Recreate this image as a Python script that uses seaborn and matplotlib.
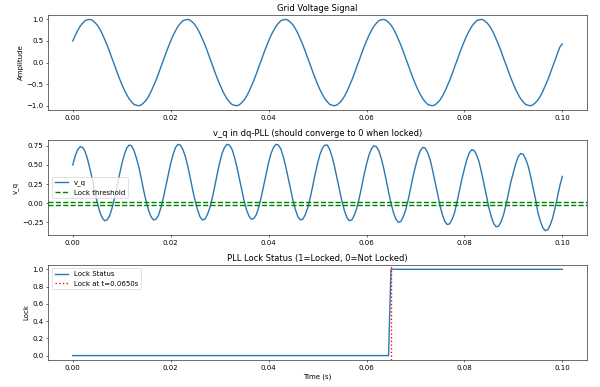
import numpy as np
import matplotlib
matplotlib.use("Agg")
import matplotlib.pyplot as plt
import seaborn as sns

# samples every 0.5 ms, 0 .. 0.1 s
time = np.arange(201) * 0.0005

grid_voltage = [
    0.50, 0.63, 0.74, 0.84, 0.91, 0.97, 0.99, 1.00, 0.98, 0.93, 0.87, 0.78, 0.67, 0.54, 0.41, 0.26, 0.10, -0.05, -0.21, -0.36,
    -0.50, -0.63, -0.74, -0.84, -0.91, -0.97, -0.99, -1.00, -0.98, -0.93, -0.87, -0.78, -0.67, -0.54, -0.41, -0.26, -0.10, 0.05, 0.21, 0.36,
    0.50, 0.63, 0.74, 0.84, 0.91, 0.97, 0.99, 1.00, 0.98, 0.93, 0.87, 0.78, 0.67, 0.54, 0.41, 0.26, 0.10, -0.05, -0.21, -0.36,
    -0.50, -0.63, -0.74, -0.84, -0.91, -0.97, -0.99, -1.00, -0.98, -0.93, -0.87, -0.78, -0.67, -0.54, -0.41, -0.26, -0.10, 0.05, 0.21, 0.36,
    0.50, 0.63, 0.74, 0.84, 0.91, 0.97, 0.99, 1.00, 0.98, 0.93, 0.87, 0.78, 0.67, 0.54, 0.41, 0.26, 0.10, -0.05, -0.21, -0.36,
    -0.50, -0.63, -0.74, -0.84, -0.91, -0.97, -0.99, -1.00, -0.98, -0.93, -0.87, -0.78, -0.67, -0.54, -0.41, -0.26, -0.10, 0.05, 0.21, 0.36,
    0.50, 0.63, 0.74, 0.84, 0.91, 0.97, 0.99, 1.00, 0.98, 0.93, 0.87, 0.78, 0.67, 0.54, 0.41, 0.26, 0.10, -0.05, -0.21, -0.36,
    -0.50, -0.63, -0.74, -0.84, -0.91, -0.97, -0.99, -1.00, -0.98, -0.93, -0.87, -0.78, -0.67, -0.54, -0.41, -0.26, -0.10, 0.05, 0.21, 0.36,
    0.50, 0.63, 0.74, 0.84, 0.91, 0.97, 0.99, 1.00, 0.98, 0.93, 0.87, 0.78, 0.67, 0.54, 0.41, 0.26, 0.10, -0.05, -0.21, -0.36,
    -0.50, -0.63, -0.74, -0.84, -0.91, -0.97, -0.99, -1.00, -0.98, -0.93, -0.87, -0.78, -0.67, -0.54, -0.41, -0.26, -0.10, 0.05, 0.21, 0.36,
    0.43,
]

v_q = [
    0.50, 0.62, 0.70, 0.74, 0.73, 0.68, 0.58, 0.45, 0.31, 0.15, 0.01, -0.11, -0.19, -0.23, -0.22, -0.17, -0.07, 0.06, 0.21, 0.36,
    0.51, 0.63, 0.72, 0.76, 0.75, 0.69, 0.59, 0.47, 0.32, 0.16, 0.02, -0.10, -0.18, -0.22, -0.21, -0.16, -0.06, 0.07, 0.22, 0.37,
    0.52, 0.64, 0.73, 0.77, 0.76, 0.70, 0.61, 0.48, 0.33, 0.17, 0.03, -0.09, -0.18, -0.22, -0.21, -0.15, -0.06, 0.07, 0.22, 0.38,
    0.53, 0.65, 0.73, 0.77, 0.76, 0.71, 0.61, 0.48, 0.33, 0.18, 0.03, -0.09, -0.17, -0.21, -0.20, -0.15, -0.05, 0.08, 0.23, 0.38,
    0.53, 0.65, 0.73, 0.77, 0.76, 0.71, 0.61, 0.48, 0.33, 0.18, 0.03, -0.09, -0.18, -0.22, -0.21, -0.15, -0.06, 0.07, 0.22, 0.38,
    0.52, 0.64, 0.72, 0.76, 0.76, 0.70, 0.60, 0.47, 0.32, 0.17, 0.02, -0.10, -0.19, -0.23, -0.22, -0.16, -0.07, 0.06, 0.21, 0.37,
    0.51, 0.63, 0.71, 0.75, 0.74, 0.69, 0.59, 0.46, 0.31, 0.15, 0.00, -0.12, -0.21, -0.25, -0.24, -0.18, -0.09, 0.04, 0.19, 0.35,
    0.48, 0.60, 0.69, 0.73, 0.72, 0.66, 0.57, 0.43, 0.28, 0.13, -0.03, -0.15, -0.24, -0.28, -0.27, -0.21, -0.12, 0.02, 0.17, 0.32,
    0.45, 0.57, 0.66, 0.70, 0.69, 0.63, 0.54, 0.40, 0.25, 0.10, -0.06, -0.18, -0.27, -0.31, -0.30, -0.24, -0.15, -0.02, 0.13, 0.28,
    0.40, 0.52, 0.61, 0.65, 0.64, 0.58, 0.49, 0.36, 0.21, 0.06, -0.12, -0.23, -0.32, -0.36, -0.35, -0.29, -0.20, -0.07, 0.08, 0.23,
    0.35,
]

lock_status = [0] * 130 + [1] * 71
lock_time = 0.065
lock_threshold = 0.02

line_color = "#2a78b0"
plt.rcParams["lines.linewidth"] = 2.0

fig, axes = plt.subplots(3, 1, figsize=(12, 7.74))
fig.subplots_adjust(left=0.0805, right=0.978, top=0.961, bottom=0.070, hspace=0.316)

ax = axes[0]
sns.lineplot(x=time, y=grid_voltage, ax=ax, color=line_color)
ax.set_title("Grid Voltage Signal")
ax.set_ylabel("Amplitude")

ax = axes[1]
sns.lineplot(x=time, y=v_q, ax=ax, color=line_color, label="v_q")
ax.axhline(lock_threshold, color="g", linestyle="--", label="Lock threshold")
ax.axhline(-lock_threshold, color="g", linestyle="--")
ax.set_title("v_q in dq-PLL (should converge to 0 when locked)")
ax.set_ylabel("v_q")
ax.legend(loc="center left")

ax = axes[2]
sns.lineplot(x=time, y=lock_status, ax=ax, color=line_color, label="Lock Status")
ax.axvline(lock_time, color="r", linestyle=":", label=f"Lock at t={lock_time:.4f}s")
ax.set_title("PLL Lock Status (1=Locked, 0=Not Locked)")
ax.set_xlabel("Time (s)")
ax.set_ylabel("Lock")
ax.legend(loc="upper left")

fig.savefig("out.png", dpi=50)
